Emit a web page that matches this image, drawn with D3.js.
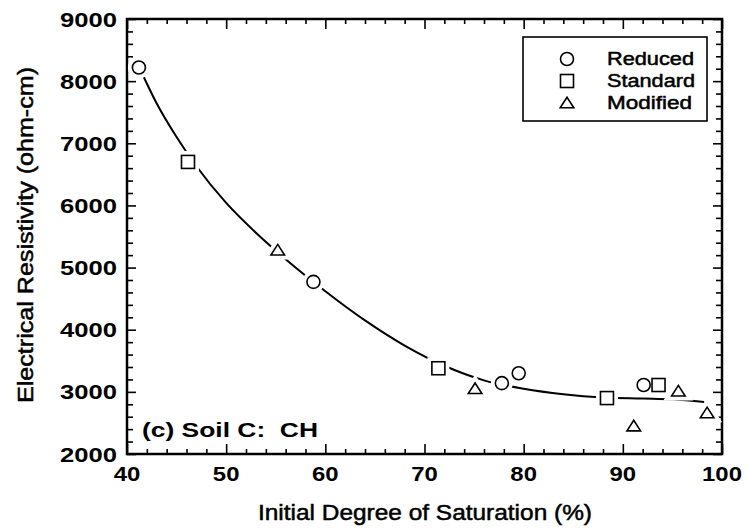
<!DOCTYPE html>
<html><head><meta charset="utf-8">
<script src="https://cdn.jsdelivr.net/npm/d3@7"></script>
<style>body{margin:0;background:#fff} svg{display:block}</style>
</head><body><svg id="c" width="747" height="528"></svg>
<script>
// ---- data ----
const reducedX = [41.2, 58.8, 77.8, 79.5, 92.1];
const reducedY = [8220, 4770, 3140, 3300, 3110];
const standardX = [46.15, 71.4, 88.4, 93.6];
const standardY = [6700, 3380, 2900, 3110];
const modifiedX = [55.2, 75.1, 91.1, 95.6, 98.5];
const modifiedY = [5280, 3050, 2450, 3010, 2660];
const fitX = [41.3, 43, 45, 47, 50, 53, 56, 60, 64, 68, 72, 76, 80, 84, 88, 92, 95, 98.2];
const fitY = [8200, 7640, 7100, 6630, 6040, 5560, 5135, 4620, 4150, 3745, 3420, 3185, 3050, 2962, 2910, 2893, 2880, 2835];
const xTicks = [40, 50, 60, 70, 80, 90, 100];
const yTicks = [2000, 3000, 4000, 5000, 6000, 7000, 8000, 9000];
const legendLabels = ["Reduced", "Standard", "Modified"];
const xTitle = "Initial Degree of Saturation (%)";
const yTitle = "Electrical Resistivity (ohm-cm)";
const note = "(c) Soil C:  CH";

// ---- layout ----
const L = 127, R = 722, T = 19, B = 454;
const svg = d3.select("#c");
const x = d3.scaleLinear().domain([40, 100]).range([L, R]);
const y = d3.scaleLinear().domain([2000, 9000]).range([B, T]);
const font = "'Liberation Sans', Arial, Helvetica, sans-serif";

const xMinor = d3.range(42, 100, 2).filter(v => v % 10 !== 0);
const yMinor = d3.range(2200, 9000, 200).filter(v => v % 1000 !== 0);

function axis(gen, tf, vals, size) {
  const g = svg.append("g").attr("transform", tf)
    .call(gen.tickValues(vals).tickSizeInner(size).tickSizeOuter(0).tickFormat(""));
  g.select(".domain").remove();
  g.selectAll("line").attr("stroke", "#000").attr("stroke-width", 1.6);
}
axis(d3.axisBottom(x), `translate(0,${B})`, xTicks, -10);
axis(d3.axisBottom(x), `translate(0,${B})`, xMinor, -5);
axis(d3.axisTop(x), `translate(0,${T})`, xTicks, -10);
axis(d3.axisTop(x), `translate(0,${T})`, xMinor, -5);
axis(d3.axisLeft(y), `translate(${L},0)`, yTicks, -9);
axis(d3.axisLeft(y), `translate(${L},0)`, yMinor, -6);
axis(d3.axisRight(y), `translate(${R},0)`, yTicks, -9);
axis(d3.axisRight(y), `translate(${R},0)`, yMinor, -6);

svg.append("rect").attr("x", L).attr("y", T).attr("width", R - L).attr("height", B - T)
  .attr("fill", "none").attr("stroke", "#000").attr("stroke-width", 2.5);

// tick labels
svg.append("g").selectAll("text").data(xTicks).join("text")
  .attr("x", d => x(d)).attr("y", 481)
  .attr("text-anchor", "middle")
  .attr("font-family", font).attr("font-size", 21).attr("font-weight", "bold")
  .attr("textLength", d => String(d).length * 13.3).attr("lengthAdjust", "spacingAndGlyphs")
  .text(d => d);
svg.append("g").selectAll("text").data(yTicks).join("text")
  .attr("x", 117).attr("y", d => y(d) + 7.5)
  .attr("text-anchor", "end")
  .attr("font-family", font).attr("font-size", 21).attr("font-weight", "bold")
  .attr("textLength", 57).attr("lengthAdjust", "spacingAndGlyphs")
  .text(d => d);

// axis titles
svg.append("text").attr("x", 425).attr("y", 520).attr("text-anchor", "middle")
  .attr("font-family", font).attr("font-size", 22)
  .attr("stroke", "#000").attr("stroke-width", 0.5)
  .attr("textLength", 334).attr("lengthAdjust", "spacingAndGlyphs")
  .text(xTitle);
svg.append("text").attr("transform", "translate(33,235) rotate(-90)").attr("text-anchor", "middle")
  .attr("font-family", font).attr("font-size", 22)
  .attr("stroke", "#000").attr("stroke-width", 0.5)
  .attr("textLength", 336).attr("lengthAdjust", "spacingAndGlyphs")
  .text(yTitle);

// annotation
svg.append("text").attr("x", 142).attr("y", 437)
  .attr("font-family", font).attr("font-size", 20).attr("font-weight", "bold")
  .attr("xml:space", "preserve")
  .attr("textLength", 176).attr("lengthAdjust", "spacingAndGlyphs")
  .text(note);

// fit curve
const line = d3.line().x((d, i) => x(fitX[i])).y((d, i) => y(fitY[i])).curve(d3.curveMonotoneX);
svg.append("path").attr("d", line(fitX)).attr("fill", "none").attr("stroke", "#000").attr("stroke-width", 2);

// markers
function drawShape(g, type, cx, cy) {
  if (type === "circle") {
    return g.append("circle").attr("cx", cx).attr("cy", cy).attr("r", 6.5);
  } else if (type === "square") {
    return g.append("rect").attr("x", cx - 6.5).attr("y", cy - 6.5).attr("width", 13).attr("height", 13);
  } else {
    return g.append("path").attr("d", `M${cx - 6.8},${cy + 4.8}L${cx + 6.8},${cy + 4.8}L${cx},${cy - 5.8}Z`);
  }
}
const series = [
  {type: "circle", xs: reducedX, ys: reducedY},
  {type: "square", xs: standardX, ys: standardY},
  {type: "triangle", xs: modifiedX, ys: modifiedY}
];
const halo = svg.append("g");
const marks = svg.append("g");
series.forEach(s => {
  s.xs.forEach((v, i) => {
    drawShape(halo, s.type, x(v), y(s.ys[i])).attr("fill", "#fff").attr("stroke", "#fff").attr("stroke-width", 9);
  });
});
series.forEach(s => {
  s.xs.forEach((v, i) => {
    drawShape(marks, s.type, x(v), y(s.ys[i])).attr("fill", "#fff").attr("stroke", "#000").attr("stroke-width", 1.6);
  });
});

// legend
svg.append("rect").attr("x", 523).attr("y", 37).attr("width", 184).attr("height", 84)
  .attr("fill", "#fff").attr("stroke", "#000").attr("stroke-width", 1.6);
const legW = [87, 88, 85];
series.forEach((s, i) => {
  const cy = 59 + i * 22;
  drawShape(svg, s.type, 567, cy).attr("fill", "#fff").attr("stroke", "#000").attr("stroke-width", 1.6);
  svg.append("text").attr("x", 607).attr("y", cy + 6)
    .attr("font-family", font).attr("font-size", 18)
    .attr("stroke", "#000").attr("stroke-width", 0.5)
    .attr("textLength", legW[i]).attr("lengthAdjust", "spacingAndGlyphs")
    .text(legendLabels[i]);
});
</script>
</body></html>
